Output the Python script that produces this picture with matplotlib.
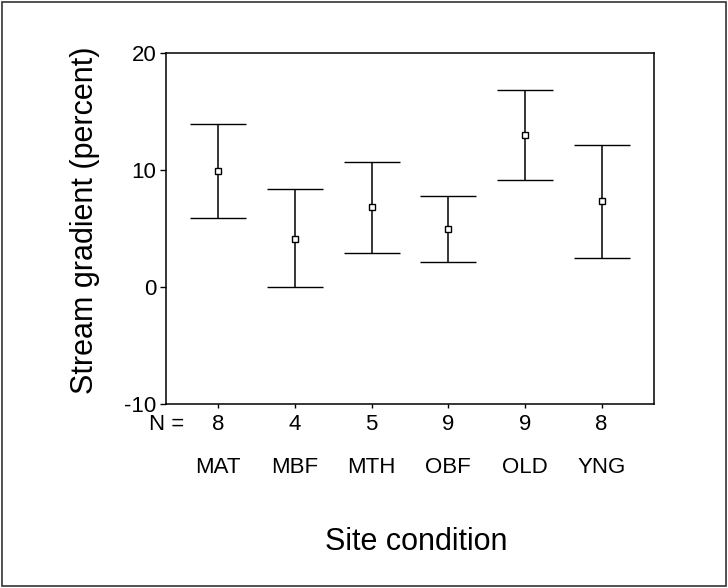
import matplotlib
matplotlib.use("Agg")
import matplotlib.pyplot as plt
from matplotlib.patches import Rectangle

plt.rcParams['font.family'] = ['Liberation Sans', 'DejaVu Sans']

# Data
categories = ['MAT', 'MBF', 'MTH', 'OBF', 'OLD', 'YNG']
n_counts = [8, 4, 5, 9, 9, 8]
means = [9.9, 4.1, 6.8, 4.95, 13.0, 7.35]
upper = [13.9, 8.4, 10.7, 7.8, 16.85, 12.1]
lower = [5.9, 0.0, 2.9, 2.1, 9.1, 2.5]

positions = list(range(1, len(categories) + 1))
err_low = [m - lo for m, lo in zip(means, lower)]
err_high = [hi - m for m, hi in zip(means, upper)]

fig = plt.figure(figsize=(7.28, 5.88), dpi=100)
ax = fig.add_axes([0.228, 0.313, 0.670, 0.597])

ax.errorbar(positions, means, yerr=[err_low, err_high], fmt='s',
            color='black', ecolor='black', elinewidth=1.1, capthick=1.3,
            capsize=20, markersize=4.5, markerfacecolor='white',
            markeredgecolor='black', markeredgewidth=1.0)

ax.set_xlim(0.32, 6.68)
ax.set_ylim(-10, 20)
ax.set_yticks([-10, 0, 10, 20])
ax.set_yticklabels(['-10', '0', '10', '20'])
ax.set_xticks(positions)
ax.set_xticklabels([])
ax.tick_params(axis='y', labelsize=16, length=4, width=1, pad=3)
ax.tick_params(axis='x', length=3, width=1)
for sp in ax.spines.values():
    sp.set_linewidth(1.1)

ax.set_ylabel('Stream gradient (percent)', fontsize=22, va='center')
ax.yaxis.set_label_coords(-0.166, 0.524)

# N row and category labels below the axis
trans = ax.get_xaxis_transform()
for x, n, c in zip(positions, n_counts, categories):
    ax.text(x, -0.058, str(n), transform=trans, ha='center', va='center', fontsize=16)
    ax.text(x, -0.182, c, transform=trans, ha='center', va='center', fontsize=16)
fig.text(184 / 728, 1 - 424 / 588, 'N =', ha='right', va='center', fontsize=16)

fig.text(416 / 728, 1 - 542 / 588, 'Site condition', ha='center', va='center', fontsize=22)

# Outer frame around the figure
fig.patches.append(Rectangle((0.003, 0.004), 0.994, 0.992, transform=fig.transFigure,
                             fill=False, edgecolor='#333333', linewidth=1.2))

fig.savefig('out.png', dpi=100)
